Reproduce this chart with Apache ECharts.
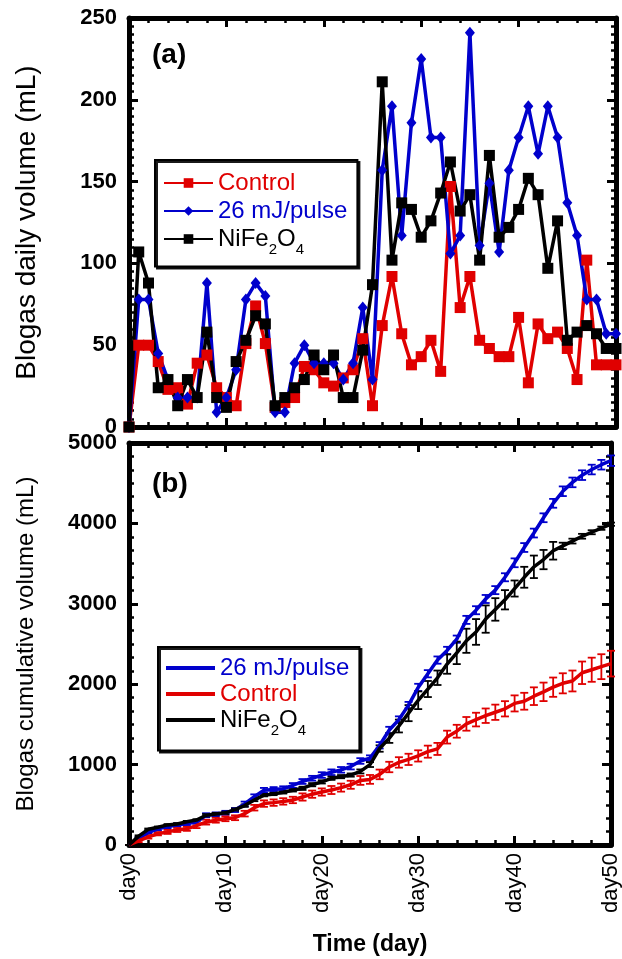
<!DOCTYPE html>
<html>
<head>
<meta charset="utf-8">
<script src="https://cdn.jsdelivr.net/npm/echarts@6/dist/echarts.min.js"></script>
<style>
  html, body { margin: 0; padding: 0; background: #fff; }
  #chart { width: 622px; height: 959px; }
</style>
</head>
<body>
<div id="chart"></div>
<script>
// day index shared by both panels
const days = [0, 1, 2, 3, 4, 5, 6, 7, 8, 9, 10, 11, 12, 13, 14, 15, 16, 17, 18, 19, 20,
  21, 22, 23, 24, 25, 26, 27, 28, 29, 30, 31, 32, 33, 34, 35, 36, 37, 38, 39, 40,
  41, 42, 43, 44, 45, 46, 47, 48, 49, 50];

// (a) daily volume, mL
const dailyControl = [0, 50, 50, 40, 23, 24, 14, 39, 44, 24, 18, 13, 51, 74, 51, 12, 15, 18, 37, 35, 27,
  25, 30, 35, 54, 13, 62, 92, 57, 38, 43, 53, 34, 147, 73, 92, 53, 48, 43, 43, 67,
  27, 63, 54, 58, 48, 29, 102, 38, 38, 38];
const dailyPulse = [0, 78, 78, 45, 29, 18, 18, 18, 88, 9, 18, 35, 78, 88, 80, 9, 9, 39, 50, 39, 39,
  39, 29, 39, 73, 29, 157, 196, 117, 186, 225, 177, 177, 106, 117, 241, 111, 149, 107, 157, 177,
  196, 167, 196, 177, 137, 117, 78, 78, 57, 57];
const dailyNiFe = [0, 107, 88, 24, 29, 13, 29, 18, 58, 18, 12, 40, 53, 68, 63, 13, 18, 24, 29, 44, 35,
  44, 18, 18, 47, 87, 211, 102, 137, 133, 116, 126, 143, 162, 132, 142, 102, 166, 116, 122, 133,
  152, 142, 97, 126, 53, 58, 62, 57, 48, 48];

// (b) cumulative volume, mL, and error bar half widths
const cumPulse = [0, 80, 155, 200, 230, 250, 268, 285, 370, 380, 400, 435, 510, 600, 680, 690, 700, 740, 790, 830, 870,
  905, 935, 975, 1045, 1080, 1240, 1430, 1560, 1740, 1960, 2130, 2300, 2420, 2560, 2800, 2920, 3060, 3170, 3330, 3510,
  3700, 3880, 4070, 4250, 4400, 4510, 4600, 4670, 4730, 4780];
const cumControl = [0, 50, 100, 140, 163, 187, 201, 240, 284, 308, 326, 339, 390, 464, 515, 527, 542, 560, 597, 632, 659,
  684, 714, 749, 803, 816, 878, 970, 1027, 1065, 1108, 1161, 1195, 1342, 1415, 1507, 1560, 1608, 1651, 1694, 1761,
  1788, 1851, 1905, 1963, 2011, 2040, 2142, 2180, 2218, 2256];
const cumNiFe = [0, 110, 195, 220, 250, 262, 290, 310, 370, 385, 400, 440, 490, 560, 620, 635, 655, 680, 705, 750, 785,
  830, 850, 870, 915, 1000, 1200, 1330, 1480, 1640, 1800, 1940, 2080, 2250, 2390, 2540, 2650, 2810, 2930, 3050, 3190,
  3330, 3460, 3550, 3660, 3720, 3780, 3840, 3890, 3940, 3990];
const errPulse = [0, 15, 15, 20, 20, 20, 20, 20, 25, 25, 25, 25, 30, 30, 30, 30, 30, 30, 30, 30, 35,
  35, 35, 35, 35, 35, 40, 40, 40, 40, 45, 45, 45, 45, 45, 50, 50, 50, 50, 50, 55,
  55, 55, 55, 55, 60, 60, 60, 60, 60, 65];
const errControl = [0, 15, 20, 20, 25, 25, 25, 30, 30, 30, 30, 30, 35, 35, 40, 40, 40, 40, 45, 45, 45,
  50, 50, 50, 55, 55, 60, 65, 65, 70, 70, 75, 75, 80, 80, 85, 85, 90, 95, 95, 100,
  105, 110, 115, 120, 125, 130, 140, 150, 155, 160];
const errNiFe = [0, 10, 10, 10, 10, 10, 10, 10, 15, 15, 15, 15, 15, 15, 15, 15, 15, 15, 20, 20, 20,
  20, 20, 20, 25, 30, 40, 60, 80, 100, 110, 100, 90, 120, 140, 150, 160, 170, 140, 120, 100,
  130, 140, 120, 110, 40, 30, 30, 25, 20, 20];

const RED = "#e00000";
const BLUE = "#0000cc";
const BLACK = "#000000";
const FONT = "Liberation Sans, Arial, sans-serif";

const pairs = (vals) => days.map((d, i) => [d, vals[i]]);
const bars = (vals, errs) => days.map((d, i) => [d, vals[i] - errs[i], vals[i] + errs[i]]);

function errorBar(color) {
  return function (params, api) {
    const lo = api.coord([api.value(0), api.value(1)]);
    const hi = api.coord([api.value(0), api.value(2)]);
    const w = 4;
    const st = { stroke: color, lineWidth: 1.8 };
    return {
      type: "group",
      children: [
        { type: "line", shape: { x1: lo[0], y1: lo[1], x2: hi[0], y2: hi[1] }, style: st },
        { type: "line", shape: { x1: lo[0] - w, y1: lo[1], x2: lo[0] + w, y2: lo[1] }, style: st },
        { type: "line", shape: { x1: hi[0] - w, y1: hi[1], x2: hi[0] + w, y2: hi[1] }, style: st },
      ],
    };
  };
}

const frameLine = { show: true, onZero: false, lineStyle: { color: BLACK, width: 5 } };
const tick = { show: true, inside: true, length: 9, lineStyle: { color: BLACK, width: 3 } };
const minor = { show: true, splitNumber: 5, length: 5, lineStyle: { color: BLACK, width: 2.5 } };

function xAxes(grid, withLabels) {
  const base = {
    type: "value", gridIndex: grid, min: 0, max: 50, interval: 10,
    axisLine: frameLine, axisTick: tick, minorTick: minor, splitLine: { show: false },
  };
  return [
    Object.assign({}, base, {
      position: "bottom",
      axisLabel: withLabels
        ? { show: true, rotate: 90, formatter: "day{value}", fontSize: 22, color: BLACK, fontFamily: FONT, margin: 8 }
        : { show: false },
      name: withLabels ? "Time (day)" : "",
      nameLocation: "middle",
      nameGap: 88,
      nameTextStyle: { fontSize: 23, fontWeight: "bold", color: BLACK, fontFamily: FONT },
    }),
    Object.assign({}, base, { position: "top", axisLabel: { show: false } }),
  ];
}

function yAxes(grid, max, interval, name, nameSize, nameGap, minorSplit) {
  const base = {
    type: "value", gridIndex: grid, min: 0, max: max, interval: interval,
    axisLine: frameLine, axisTick: tick,
    minorTick: Object.assign({}, minor, { splitNumber: minorSplit }),
    splitLine: { show: false },
  };
  return [
    Object.assign({}, base, {
      position: "left",
      axisLabel: {
        fontSize: 22, fontWeight: "bold", color: BLACK, fontFamily: FONT, margin: 12,
        formatter: (v) => String(v),
      },
      name: name,
      nameLocation: "middle",
      nameGap: nameGap,
      nameTextStyle: { fontSize: nameSize, color: BLACK, fontFamily: FONT },
    }),
    Object.assign({}, base, { position: "right", axisLabel: { show: false } }),
  ];
}

const legendBase = {
  orient: "vertical",
  backgroundColor: "#fff",
  borderColor: BLACK,
  borderWidth: 2,
  borderRadius: 0,
  shadowColor: "rgba(0,0,0,0.9)",
  shadowOffsetX: 2,
  shadowOffsetY: 2,
  shadowBlur: 0,
  itemWidth: 49,
  selectedMode: false,
  textStyle: {
    fontSize: 24, fontFamily: FONT,
    rich: {
      n: { fontSize: 24, fontFamily: FONT, color: BLACK },
      s: { fontSize: 15, fontFamily: FONT, color: BLACK, padding: [22, 0, 0, 0] },
    },
  },
};

const nameLabel = (name) => {
  const plain = name.replace("cum:", "");
  return plain === "NiFe2O4" ? "{n|NiFe}{s|2}{n|O}{s|4}" : plain;
};

const option = {
  animation: false,
  backgroundColor: "#fff",
  grid: [
    { left: 129, width: 487, top: 18, height: 409 },
    { left: 129, width: 487, top: 443, height: 402 },
  ],
  title: [
    { text: "(a)", left: 147, top: 36, textStyle: { fontSize: 28, fontWeight: "bold", color: BLACK, fontFamily: FONT } },
    { text: "(b)", left: 147, top: 465, textStyle: { fontSize: 28, fontWeight: "bold", color: BLACK, fontFamily: FONT } },
  ],
  legend: [
    Object.assign({}, legendBase, {
      left: 155, top: 160, padding: [11, 10, 9, 8], itemGap: 4, itemHeight: 12,
      formatter: nameLabel,
      data: [
        { name: "Control", textStyle: { color: RED } },
        { name: "26 mJ/pulse", textStyle: { color: BLUE } },
        { name: "NiFe2O4", textStyle: { color: BLACK } },
      ],
    }),
    Object.assign({}, legendBase, {
      left: 158, top: 647, padding: [9, 10, 12, 8], itemGap: 2, itemHeight: 4, icon: "rect",
      formatter: nameLabel,
      data: [
        { name: "cum:26 mJ/pulse", textStyle: { color: BLUE } },
        { name: "cum:Control", textStyle: { color: RED } },
        { name: "cum:NiFe2O4", textStyle: { color: BLACK } },
      ],
    }),
  ],
  xAxis: xAxes(0, false).concat(xAxes(1, true)),
  yAxis: yAxes(0, 250, 50, "Blogas daily volume (mL)", 28, 88, 10).concat(
    yAxes(1, 5000, 1000, "Blogas cumulative volume (mL)", 24, 91, 6)),
  series: [
    // (a)
    { name: "Control", type: "line", xAxisIndex: 0, yAxisIndex: 0, data: pairs(dailyControl),
      symbol: "rect", symbolSize: 11, lineStyle: { color: RED, width: 3.5 }, itemStyle: { color: RED } },
    { name: "26 mJ/pulse", type: "line", xAxisIndex: 0, yAxisIndex: 0, data: pairs(dailyPulse),
      symbol: "diamond", symbolSize: [10, 12], lineStyle: { color: BLUE, width: 3.5 }, itemStyle: { color: BLUE } },
    { name: "NiFe2O4", type: "line", xAxisIndex: 0, yAxisIndex: 0, data: pairs(dailyNiFe),
      symbol: "rect", symbolSize: 11, lineStyle: { color: BLACK, width: 3.5 }, itemStyle: { color: BLACK } },
    // (b)
    { name: "cum:26 mJ/pulse", type: "line", xAxisIndex: 2, yAxisIndex: 2, data: pairs(cumPulse),
      showSymbol: false, symbol: "none", lineStyle: { color: BLUE, width: 3.5 }, itemStyle: { color: BLUE } },
    { type: "custom", xAxisIndex: 2, yAxisIndex: 2, data: bars(cumPulse, errPulse),
      encode: { x: 0, y: [1, 2] }, renderItem: errorBar(BLUE) },
    { name: "cum:Control", type: "line", xAxisIndex: 2, yAxisIndex: 2, data: pairs(cumControl),
      showSymbol: false, symbol: "none", lineStyle: { color: RED, width: 3.5 }, itemStyle: { color: RED } },
    { type: "custom", xAxisIndex: 2, yAxisIndex: 2, data: bars(cumControl, errControl),
      encode: { x: 0, y: [1, 2] }, renderItem: errorBar(RED) },
    { name: "cum:NiFe2O4", type: "line", xAxisIndex: 2, yAxisIndex: 2, data: pairs(cumNiFe),
      showSymbol: false, symbol: "none", lineStyle: { color: BLACK, width: 3.5 }, itemStyle: { color: BLACK } },
    { type: "custom", xAxisIndex: 2, yAxisIndex: 2, data: bars(cumNiFe, errNiFe),
      encode: { x: 0, y: [1, 2] }, renderItem: errorBar(BLACK) },
  ],
};

const chart = echarts.init(document.getElementById("chart"), null, { renderer: "canvas" });
chart.setOption(option);
</script>
</body>
</html>
